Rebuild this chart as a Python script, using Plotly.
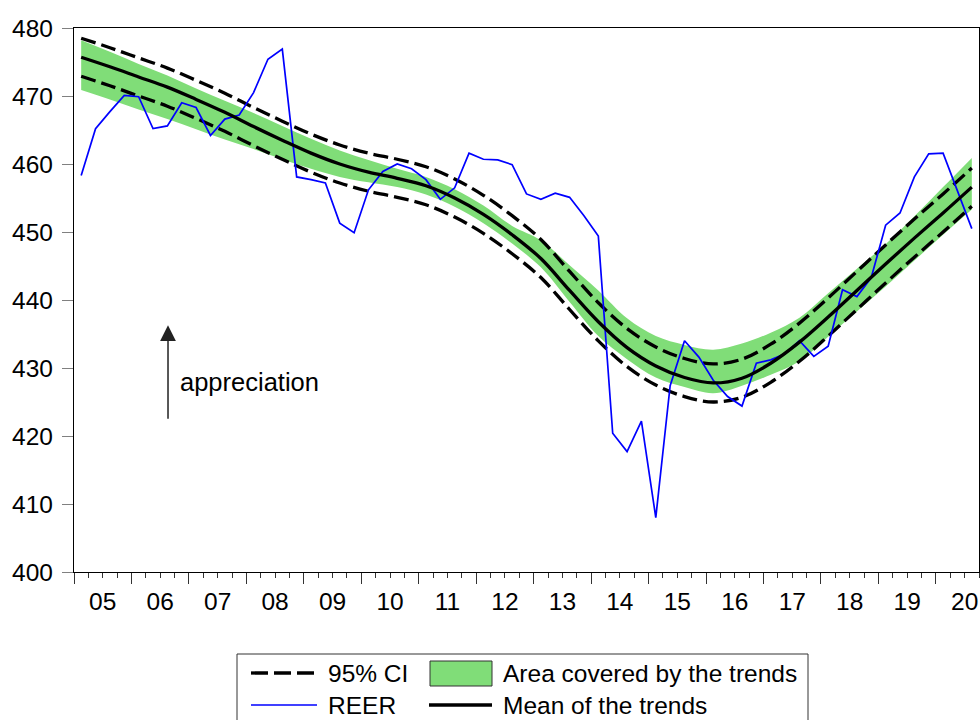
import pandas as pd
import plotly.graph_objects as go

# ---------------------------------------------------------------------------
# Data: quarterly REER, 2005Q1 - 2020Q3
# ---------------------------------------------------------------------------
quarters = pd.period_range("2005Q1", "2020Q3", freq="Q")

reer = [
    458.3, 465.2, 467.7, 470.1, 469.9, 465.2, 465.6, 469.0,
    468.3, 464.2, 466.6, 467.2, 470.5, 475.4, 476.9, 458.1,
    457.7, 457.2, 451.3, 449.9, 456.2, 458.9, 460.0, 459.3,
    457.7, 454.8, 456.5, 461.6, 460.7, 460.6, 459.9, 455.6,
    454.8, 455.7, 455.1, 452.4, 449.4, 420.4, 417.7, 422.2,
    408.0, 427.4, 434.0, 431.6, 428.2, 425.8, 424.4, 430.7,
    431.2, 432.1, 434.0, 431.7, 433.2, 441.5, 440.5, 443.3,
    451.0, 452.8, 458.1, 461.5, 461.6, 456.0, 450.5,
]

# Trend estimates, sampled every second quarter (Q1 and Q3)
trend_quarters = quarters[::2]

trend_mean = [
    475.7, 474.3, 472.8, 471.3, 469.5, 467.6, 465.5, 463.5,
    461.6, 460.0, 458.8, 457.9, 456.8, 455.0, 452.6, 449.6,
    446.1, 441.4, 436.8, 433.0, 430.3, 428.6, 427.8, 428.5,
    430.7, 433.8, 437.5, 441.4, 445.3, 449.1, 452.8, 456.6,
]

ci_upper = [
    478.5, 477.1, 475.6, 474.1, 472.3, 470.4, 468.3, 466.3,
    464.4, 462.8, 461.6, 460.7, 459.6, 457.8, 455.4, 452.4,
    448.9, 444.2, 439.6, 435.8, 433.1, 431.4, 430.6, 431.3,
    433.5, 436.6, 440.3, 444.2, 448.1, 451.9, 455.6, 459.4,
]

ci_lower = [
    472.9, 471.5, 470.0, 468.5, 466.7, 464.8, 462.7, 460.7,
    458.8, 457.2, 456.0, 455.1, 454.0, 452.2, 449.8, 446.8,
    443.3, 438.6, 434.0, 430.2, 427.5, 425.8, 425.0, 425.7,
    427.9, 431.0, 434.7, 438.6, 442.5, 446.3, 450.0, 453.8,
]

# Envelope of all individual trend estimates
band_upper = [
    478.2, 476.5, 474.7, 473.0, 471.1, 469.3, 467.5, 465.6,
    463.7, 462.0, 460.6, 459.3, 458.1, 456.3, 453.9, 450.9,
    448.8, 445.1, 441.4, 437.3, 434.7, 433.4, 432.7, 433.6,
    435.2, 437.4, 441.0, 444.6, 448.2, 452.3, 456.6, 460.9,
]

band_lower = [
    470.9, 469.5, 468.0, 466.6, 465.1, 463.6, 462.2, 460.7,
    459.3, 458.1, 457.3, 456.6, 455.5, 453.7, 451.3, 448.3,
    444.8, 439.7, 434.7, 431.3, 428.6, 427.2, 426.3, 427.4,
    429.0, 431.0, 434.6, 438.3, 442.0, 445.8, 449.6, 453.3,
]

years = list(range(2005, 2021))
year_labels = [f"{y % 100:02d}" for y in years]

legend_labels = ["95% CI", "Area covered by the trends", "REER", "Mean of the trends"]

# ---------------------------------------------------------------------------
# Helpers
# ---------------------------------------------------------------------------
def qpos(p):
    """Centre of a quarter on a continuous year axis."""
    return p.year + (p.quarter - 0.5) / 4


x_obs = [qpos(p) for p in quarters]
x_trend = [qpos(p) for p in trend_quarters]

FONT = "Liberation Sans, Arial, Helvetica, sans-serif"
GREEN = "#80DD78"
BLUE = "#0000FF"
DASH = "15px,6px"
TICK_SIZE = 24.5

W, H = 980, 720
M_L, M_R, M_T, M_B = 74, 1, 28, 148
PW, PH = W - M_L - M_R, H - M_T - M_B


def px(xp):
    return (xp - M_L) / PW


def py(yp):
    return (H - M_B - yp) / PH


# ---------------------------------------------------------------------------
# Figure
# ---------------------------------------------------------------------------
fig = go.Figure()

# green envelope
fig.add_trace(go.Scatter(
    x=x_trend, y=band_lower, mode="lines", line=dict(width=0, shape="spline"),
    hoverinfo="skip", showlegend=False,
))
fig.add_trace(go.Scatter(
    x=x_trend, y=band_upper, mode="lines", line=dict(width=0, shape="spline"),
    fill="tonexty", fillcolor=GREEN, name=legend_labels[1], showlegend=False,
))

# confidence interval
for ci in (ci_upper, ci_lower):
    fig.add_trace(go.Scatter(
        x=x_trend, y=ci, mode="lines", name=legend_labels[0],
        line=dict(color="black", width=3.3, dash=DASH, shape="spline"),
        showlegend=False,
    ))

# observed REER
fig.add_trace(go.Scatter(
    x=x_obs, y=reer, mode="lines", name=legend_labels[2],
    line=dict(color=BLUE, width=1.7), showlegend=False,
))

# mean trend
fig.add_trace(go.Scatter(
    x=x_trend, y=trend_mean, mode="lines", name=legend_labels[3],
    line=dict(color="black", width=3.3, shape="spline"), showlegend=False,
))

# carrier for the labelled year axis
fig.add_trace(go.Scatter(
    x=[years[0]], y=[None], xaxis="x2", mode="lines",
    hoverinfo="skip", showlegend=False,
))

x_range = [2005, 2020.75]

fig.update_layout(
    width=W, height=H,
    margin=dict(l=M_L, r=M_R, t=M_T, b=M_B, pad=0),
    paper_bgcolor="white", plot_bgcolor="white",
    font=dict(family=FONT, color="black", size=TICK_SIZE),
    showlegend=False,
    xaxis=dict(
        range=x_range, showgrid=False, zeroline=False,
        showline=True, linecolor="black", linewidth=1.3, mirror=True,
        tickmode="array", tickvals=years, ticks="outside", ticklen=11,
        tickcolor="#333", tickwidth=1, showticklabels=False,
        minor=dict(ticks="outside", ticklen=5, tickcolor="#333", tickwidth=1,
                   tick0=2005, dtick=0.25, showgrid=False),
    ),
    xaxis2=dict(
        range=x_range, overlaying="x", anchor="y", side="bottom",
        showgrid=False, zeroline=False, showline=False,
        tickmode="array", tickvals=[y + 0.5 for y in years], ticktext=year_labels,
        ticks="", tickfont=dict(size=TICK_SIZE), ticklabelstandoff=12,
    ),
    yaxis=dict(
        range=[400, 480], showgrid=False, zeroline=False,
        showline=True, linecolor="black", linewidth=1.3, mirror=True,
        tickmode="array", tickvals=list(range(400, 481, 10)),
        ticks="outside", ticklen=11, tickcolor="#808080", tickwidth=1,
        tickfont=dict(size=TICK_SIZE), ticklabelstandoff=4,
    ),
)

# "appreciation" arrow
fig.add_annotation(
    x=2006.636, y=436.3, ax=2006.636, ay=422.3, xref="x", yref="y",
    axref="x", ayref="y", text="", showarrow=True,
    arrowhead=2, arrowsize=2.1, arrowwidth=1.5, arrowcolor="#222",
)
fig.add_annotation(
    x=2006.81, y=428.0, xref="x", yref="y", text="appreciation",
    showarrow=False, xanchor="left", yanchor="middle",
    font=dict(size=25.5, family=FONT, color="black"),
)

# ---------------------------------------------------------------------------
# Legend (two rows, two columns, framed)
# ---------------------------------------------------------------------------
shapes = [
    dict(type="rect", xref="paper", yref="paper",
         x0=px(237), x1=px(808), y0=py(654), y1=py(740),
         line=dict(color="#333", width=1), fillcolor="white", layer="above"),
    dict(type="line", xref="paper", yref="paper",
         x0=px(251), x1=px(317), y0=py(673), y1=py(673),
         line=dict(color="black", width=3.3, dash="17px,6px")),
    dict(type="rect", xref="paper", yref="paper",
         x0=px(430), x1=px(492), y0=py(661), y1=py(686),
         line=dict(color="#333", width=1), fillcolor=GREEN),
    dict(type="line", xref="paper", yref="paper",
         x0=px(251), x1=px(317), y0=py(705), y1=py(705),
         line=dict(color=BLUE, width=1.5)),
    dict(type="line", xref="paper", yref="paper",
         x0=px(429), x1=px(492), y0=py(705), y1=py(705),
         line=dict(color="black", width=3.3)),
]
fig.update_layout(shapes=shapes)

legend_pos = [(326, 673), (501, 673), (326, 705), (501, 705)]
for label, (lx, ly) in zip(legend_labels, legend_pos):
    fig.add_annotation(
        x=px(lx), y=py(ly), xref="paper", yref="paper", text=label,
        showarrow=False, xanchor="left", yanchor="middle",
        font=dict(size=24.5, family=FONT, color="black"),
    )

fig.write_html("out.html")
